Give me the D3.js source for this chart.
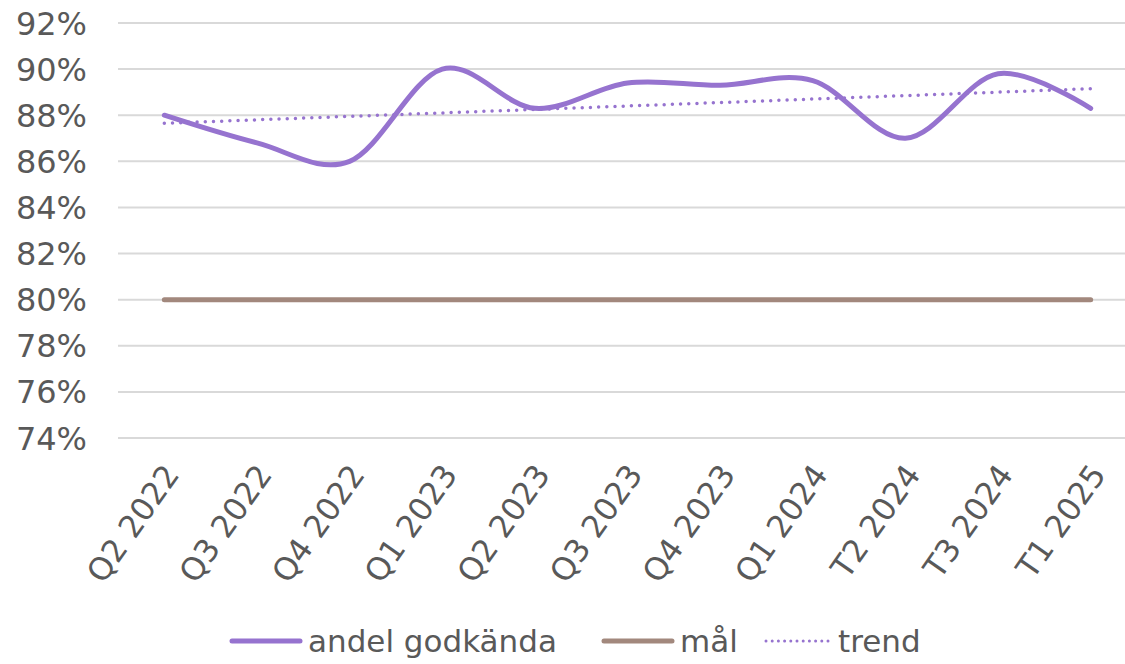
<!DOCTYPE html>
<html>
<head>
<meta charset="utf-8">
<script src="https://cdn.jsdelivr.net/npm/d3@7"></script>
<style>
  body { margin: 0; background: #fff; }
  text { font-family: "DejaVu Sans", Verdana, sans-serif; fill: #595959; }
</style>
</head>
<body>
<script>
(function() {

var categories = ["Q2 2022", "Q3 2022", "Q4 2022", "Q1 2023", "Q2 2023", "Q3 2023",
                  "Q4 2023", "Q1 2024", "T2 2024", "T3 2024", "T1 2025"],
    andel      = [88.0, 86.8, 86.0, 90.0, 88.3, 89.4, 89.3, 89.5, 87.0, 89.8, 88.3],
    mal        = [80, 80, 80, 80, 80, 80, 80, 80, 80, 80, 80],
    yTicks     = [74, 76, 78, 80, 82, 84, 86, 88, 90, 92],
    legendLabels = ["andel godkända", "mål", "trend"];

var width  = 1125, height = 664,
    left   = 118, right = 1137,
    top    = 23,  bottom = 438,
    c_line = "#9673cf",
    c_goal = "#a2887d",
    c_grid = "#d9d9d9",
    svg, x, y;

// least squares trendline, like the one the spreadsheet adds
function trend_of(vals) {
  var n = vals.length, mx = (n - 1) / 2,
      my = d3.mean(vals), num = 0, den = 0, b, a;
  vals.forEach(function(v, i) { num += (i - mx) * (v - my); den += (i - mx) * (i - mx); });
  b = num / den;
  a = my - b * mx;
  return vals.map(function(v, i) { return a + b * i; });
}

svg = d3.select("body").append("svg")
        .attr("width", width)
        .attr("height", height);

x = d3.scaleBand().domain(categories).range([left, right]);
y = d3.scaleLinear().domain([74, 92]).range([bottom, top]);

function cx(d) { return x(d) + x.bandwidth() / 2; }

/* grid */
svg.append("g")
  .selectAll("line")
  .data(yTicks)
  .enter().append("line")
    .attr("x1", left).attr("x2", width)
    .attr("y1", function(d) { return y(d); })
    .attr("y2", function(d) { return y(d); })
    .attr("stroke", c_grid)
    .attr("stroke-width", 2);

/* y axis labels */
svg.append("g")
  .selectAll("text")
  .data(yTicks)
  .enter().append("text")
    .attr("x", 87)
    .attr("y", function(d) { return y(d); })
    .attr("dy", "0.36em")
    .attr("text-anchor", "end")
    .style("font-size", "32px")
    .text(function(d) { return d + "%"; });

/* x axis labels */
svg.append("g")
  .selectAll("text")
  .data(categories)
  .enter().append("text")
    .attr("transform", function(d) { return "translate(" + (cx(d) + 7) + ",468) rotate(-55)"; })
    .attr("dy", "0.36em")
    .attr("text-anchor", "end")
    .style("font-size", "31.5px")
    .text(function(d) { return d; });

/* series */
var line = d3.line()
  .x(function(d, i) { return cx(categories[i]); })
  .y(function(d) { return y(d); });

svg.append("path")
  .attr("d", line(mal))
  .attr("fill", "none")
  .attr("stroke", c_goal)
  .attr("stroke-width", 5)
  .attr("stroke-linecap", "round");

svg.append("path")
  .attr("d", line.curve(d3.curveCardinal.tension(0))(andel))
  .attr("fill", "none")
  .attr("stroke", c_line)
  .attr("stroke-width", 5)
  .attr("stroke-linecap", "round");

svg.append("path")
  .attr("d", line.curve(d3.curveLinear)(trend_of(andel)))
  .attr("fill", "none")
  .attr("stroke", c_line)
  .attr("stroke-width", 3.5)
  .attr("stroke-dasharray", "0 8.2")
  .attr("stroke-linecap", "round");

/* legend */
var lg = svg.append("g"), ly = 641,
    legendX = [232, 604, 766],
    textDx  = [76, 76, 72],
    styles = [
      { stroke: c_line, w: 5, dash: null },
      { stroke: c_goal, w: 5, dash: null },
      { stroke: c_line, w: 3, dash: "0 6.2" }
    ];

legendLabels.forEach(function(lab, i) {
  var s = styles[i], lx = legendX[i];
  lg.append("line")
    .attr("x1", lx).attr("x2", lx + 68)
    .attr("y1", ly).attr("y2", ly)
    .attr("stroke", s.stroke)
    .attr("stroke-width", s.w)
    .attr("stroke-linecap", "round")
    .attr("stroke-dasharray", s.dash);
  lg.append("text")
    .attr("x", lx + textDx[i])
    .attr("y", ly)
    .attr("dy", "0.36em")
    .style("font-size", "31px")
    .text(lab);
});

}());
</script>
</body>
</html>
